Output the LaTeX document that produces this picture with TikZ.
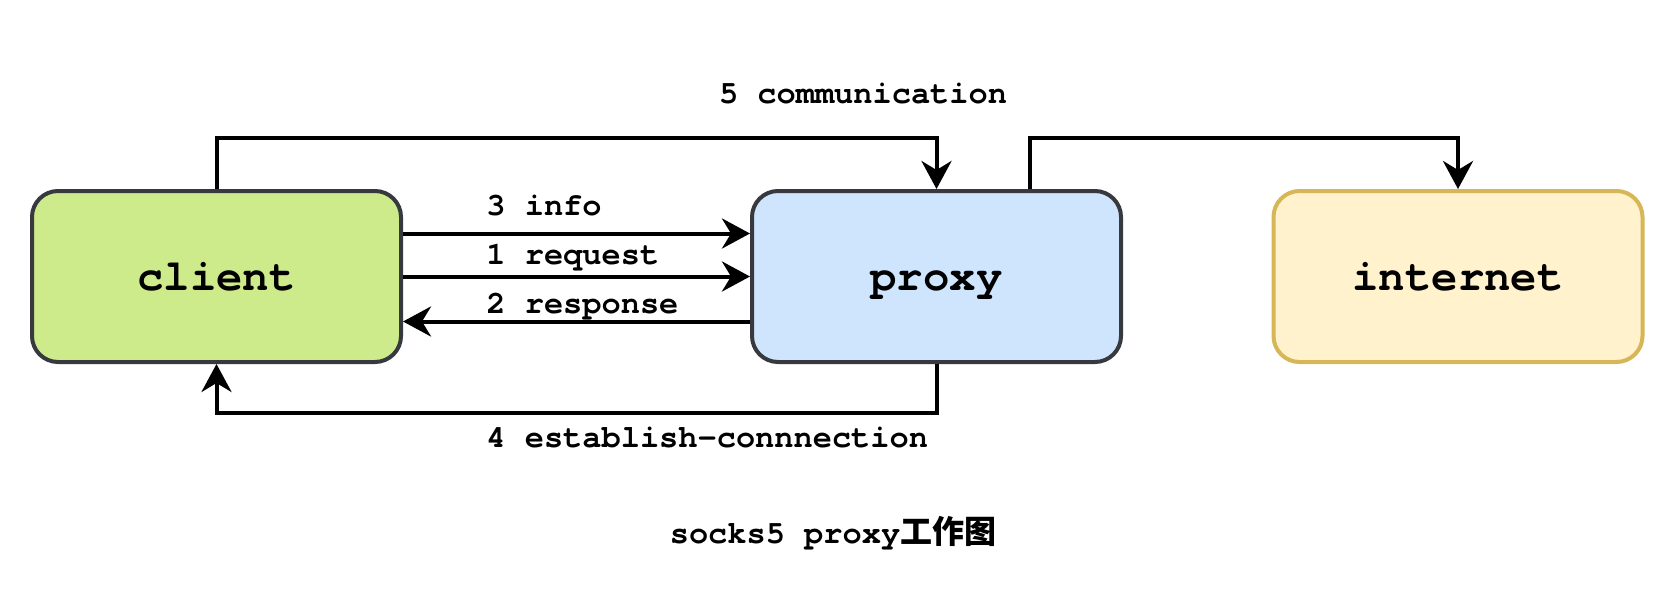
\documentclass[tikz,border=0pt]{standalone}
\usepackage{fontspec}
\setmainfont{texgyrecursor}[Extension=.otf, UprightFont=*-regular, BoldFont=*-bold]
\newfontfamily\cjk{Noto Sans CJK SC Medium}
\usetikzlibrary{arrows.meta,calc}
\definecolor{cgreen}{HTML}{CDEB8B}
\definecolor{cblue}{HTML}{CEE5FD}
\definecolor{cyellow}{HTML}{FFF2CC}
\definecolor{cyelborder}{HTML}{D6B656}
\definecolor{cdark}{HTML}{36393D}
\tikzset{
  box/.style={rectangle, rounded corners=13pt, line width=2pt, minimum width=184.5pt, minimum height=85.5pt,
    font=\fontsize{22pt}{24pt}\selectfont\bfseries, text height=15.5pt, text depth=2pt, inner sep=0pt},
  conn/.style={line width=2pt, -{Stealth[length=14pt,width=15pt,inset=4.5pt]}},
  lbl/.style={font=\fontsize{16pt}{18pt}\selectfont\bfseries, inner sep=0pt},
}
\begin{document}
\begin{tikzpicture}[x=0.5pt,y=-0.5pt]
\useasboundingbox (0,0) rectangle (1664,594);
\node[box, draw=cdark, fill=cgreen] (client) at (216.5,276.5) {client};
\node[box, draw=cdark, fill=cblue] (proxy) at (936.5,276.5) {proxy};
\node[box, draw=cyelborder, fill=cyellow] (internet) at (1458,276.5) {internet};
\coordinate (topy) at (0,138);
\coordinate (boty) at (0,413);
\coordinate (yinfo) at (0,233.5);
\coordinate (yresp) at (0,321.5);
\coordinate (pstart) at ($(proxy.north)!0.5!(proxy.north east)$);
% 5 communication
\draw[conn] (client.north) -- (client.north |- topy) -| (proxy.north);
% proxy to internet
\draw[conn] (pstart) -- (pstart |- topy) -| (internet.north);
% 3 info
\draw[conn] (client.east |- yinfo) -- (proxy.west |- yinfo);
% 1 request
\draw[conn] (client.east) -- (proxy.west);
% 2 response
\draw[conn] (proxy.west |- yresp) -- (client.east |- yresp);
% 4 establish
\draw[conn] (proxy.south) -- (proxy.south |- boty) -| (client.south);
\node[lbl, anchor=base] (l5) at (863,103) {5 communication};
\node[lbl, anchor=base west] (l3) at (486,215) {3 info};
\node[lbl, anchor=base west] (l1) at (486,264) {1 request};
\node[lbl, anchor=base west] (l2) at (486,313) {2 response};
\node[lbl, anchor=base west] (l4) at (486,447) {4 establish-connnection};
\node[lbl, anchor=base] (cap) at (833,543) {socks5 proxy{\cjk 工作图}};
\end{tikzpicture}
\end{document}
